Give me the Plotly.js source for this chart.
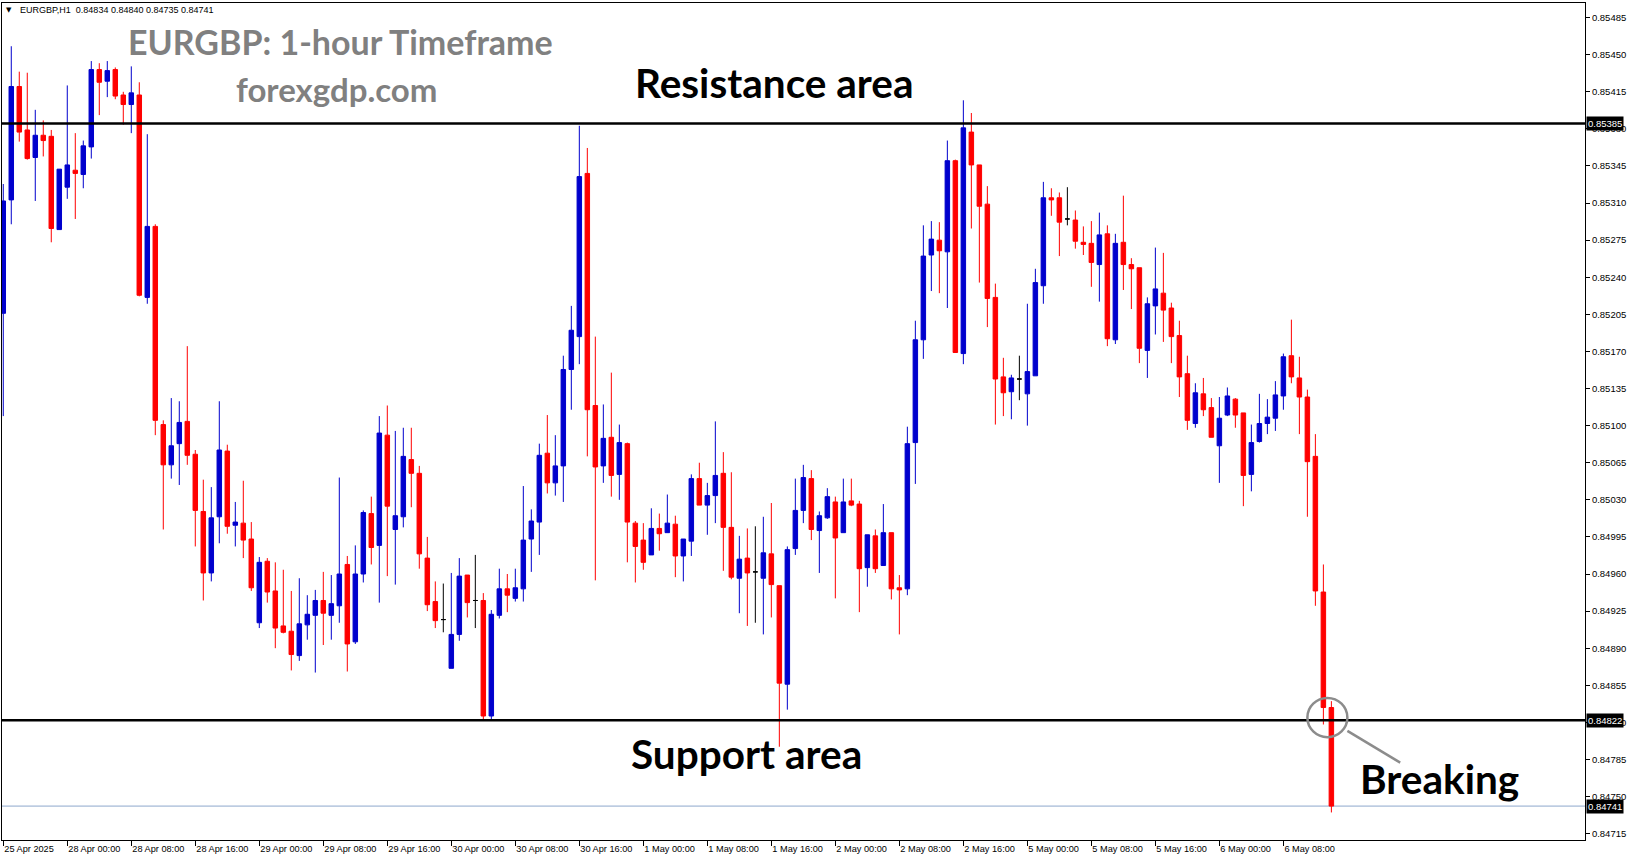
<!DOCTYPE html>
<html>
<head>
<meta charset="utf-8">
<script src="https://cdn.plot.ly/plotly-3.0.1.min.js"></script>
<style>html,body{margin:0;padding:0;background:#fff;}#chart{width:1631px;height:861px;}</style>
</head>
<body>
<div id="chart"></div>
<script>
// ---- Data (EURGBP H1, 25 Apr 16:00 -> 6 May 14:00) ----
const opens = [0.85206,0.85313,0.85420,0.85379,0.85353,0.85374,0.85373,0.85285,0.85325,0.85341,0.85337,0.85363,0.85436,0.85425,0.85436,0.85412,0.85403,0.85412,0.85221,0.85288,0.85101,0.85063,0.85083,0.85104,0.85073,0.85019,0.84961,0.85014,0.85076,0.85006,0.85008,0.84993,0.84914,0.84972,0.84944,0.84911,0.84906,0.84883,0.84912,0.84921,0.84935,0.84921,0.84930,0.84969,0.84896,0.84960,0.85017,0.84987,0.85091,0.85002,0.85014,0.85068,0.85055,0.84975,0.84934,0.84917,0.84871,0.84903,0.84959,0.84935,0.84935,0.84826,0.84921,0.84946,0.84937,0.84946,0.84993,0.85009,0.85074,0.85046,0.85062,0.85153,0.85184,0.85338,0.85119,0.85062,0.85089,0.85054,0.85083,0.85008,0.84992,0.84978,0.85003,0.84999,0.85007,0.84977,0.84991,0.85050,0.85025,0.85034,0.85055,0.85004,0.84956,0.84975,0.84962,0.84956,0.84979,0.84949,0.84856,0.84984,0.85020,0.85050,0.85001,0.85013,0.85028,0.84999,0.85029,0.85026,0.84966,0.84996,0.84968,0.84999,0.84947,0.84946,0.85084,0.85181,0.85261,0.85275,0.85264,0.85350,0.85168,0.85377,0.85346,0.85309,0.85221,0.85146,0.85132,0.85144,0.85130,0.85147,0.85232,0.85315,0.85315,0.85295,0.85294,0.85273,0.85272,0.85252,0.85281,0.85181,0.85273,0.85252,0.85249,0.85171,0.85213,0.85225,0.85211,0.85185,0.85149,0.85102,0.85130,0.85117,0.85081,0.85110,0.85125,0.85112,0.85054,0.85085,0.85102,0.85107,0.85128,0.85166,0.85145,0.85127,0.85071,0.84943,0.84834];
const highs = [0.85328,0.85458,0.85434,0.85433,0.85398,0.85388,0.85379,0.85342,0.85421,0.85376,0.85369,0.85444,0.85442,0.85444,0.85438,0.85415,0.85439,0.85424,0.85375,0.85290,0.85105,0.85126,0.85123,0.85175,0.85077,0.85049,0.85042,0.85123,0.85082,0.85028,0.85048,0.85009,0.84976,0.84975,0.84971,0.84964,0.84944,0.84956,0.84940,0.84945,0.84962,0.84959,0.85051,0.84977,0.84987,0.85020,0.85033,0.85109,0.85119,0.85095,0.85098,0.85098,0.85062,0.84995,0.84953,0.84951,0.84961,0.84975,0.84959,0.84978,0.84942,0.84926,0.84965,0.84960,0.84965,0.85043,0.85021,0.85083,0.85110,0.85091,0.85166,0.85213,0.85383,0.85362,0.85184,0.85120,0.85150,0.85101,0.85084,0.85010,0.85008,0.85022,0.85017,0.85035,0.85015,0.84993,0.85054,0.85065,0.85046,0.85104,0.85075,0.85056,0.84996,0.85003,0.85005,0.85014,0.85027,0.84949,0.84986,0.85050,0.85063,0.85058,0.85019,0.85041,0.85033,0.85050,0.85050,0.85029,0.84997,0.85002,0.85026,0.84999,0.84959,0.85099,0.85199,0.85289,0.85293,0.85292,0.85369,0.85351,0.85407,0.85395,0.85346,0.85326,0.85234,0.85164,0.85148,0.85166,0.85215,0.85248,0.85330,0.85324,0.85320,0.85325,0.85303,0.85288,0.85293,0.85301,0.85289,0.85281,0.85317,0.85258,0.85249,0.85221,0.85268,0.85263,0.85216,0.85199,0.85166,0.85140,0.85145,0.85126,0.85127,0.85136,0.85126,0.85112,0.85101,0.85130,0.85125,0.85142,0.85168,0.85200,0.85165,0.85134,0.85092,0.84969,0.84840];
const lows = [0.85109,0.85290,0.85368,0.85351,0.85312,0.85354,0.85273,0.85285,0.85314,0.85295,0.85324,0.85352,0.85393,0.85410,0.85408,0.85384,0.85376,0.85222,0.85215,0.85091,0.85002,0.85050,0.85044,0.85063,0.84986,0.84935,0.84953,0.84989,0.84998,0.84986,0.84975,0.84944,0.84909,0.84933,0.84890,0.84904,0.84869,0.84878,0.84898,0.84867,0.84893,0.84898,0.84914,0.84868,0.84894,0.84952,0.84969,0.84933,0.84958,0.84950,0.85004,0.85023,0.84965,0.84925,0.84909,0.84905,0.84871,0.84897,0.84919,0.84909,0.84823,0.84823,0.84918,0.84924,0.84934,0.84934,0.84962,0.84978,0.85036,0.85034,0.85028,0.85115,0.85158,0.85071,0.84954,0.85046,0.85033,0.85030,0.84971,0.84952,0.84964,0.84978,0.84982,0.84999,0.84957,0.84953,0.84977,0.85025,0.84997,0.85008,0.84963,0.84955,0.84923,0.84911,0.84914,0.84903,0.84919,0.84797,0.84832,0.84978,0.85008,0.84992,0.84961,0.85012,0.84937,0.84999,0.85024,0.84924,0.84948,0.84961,0.84968,0.84936,0.84903,0.84940,0.85045,0.85163,0.85227,0.85225,0.85211,0.85169,0.85158,0.85286,0.85235,0.85193,0.85101,0.85109,0.85106,0.85124,0.85100,0.85147,0.85215,0.85298,0.85260,0.85289,0.85267,0.85261,0.85231,0.85217,0.85175,0.85177,0.85228,0.85210,0.85159,0.85145,0.85186,0.85179,0.85159,0.85127,0.85096,0.85098,0.85109,0.85089,0.85046,0.85109,0.85098,0.85024,0.85038,0.85084,0.85092,0.85095,0.85115,0.85140,0.85092,0.85014,0.84930,0.84818,0.84735];
const closes = [0.85312,0.85420,0.85377,0.85352,0.85374,0.85369,0.85286,0.85342,0.85346,0.85338,0.85364,0.85436,0.85424,0.85435,0.85411,0.85403,0.85414,0.85223,0.85288,0.85105,0.85063,0.85081,0.85103,0.85072,0.85020,0.84961,0.85013,0.85077,0.85005,0.85009,0.84992,0.84947,0.84971,0.84943,0.84909,0.84905,0.84884,0.84913,0.84922,0.84935,0.84923,0.84932,0.84960,0.84894,0.84960,0.85018,0.84985,0.85093,0.85024,0.85015,0.85071,0.85055,0.84979,0.84931,0.84916,0.84917,0.84903,0.84958,0.84933,0.84935,0.84826,0.84922,0.84946,0.84940,0.84947,0.84992,0.85010,0.85072,0.85046,0.85062,0.85153,0.85190,0.85335,0.85115,0.85061,0.85088,0.85053,0.85084,0.85009,0.84986,0.84971,0.85003,0.84998,0.85008,0.84977,0.84993,0.85050,0.85025,0.85034,0.85053,0.85004,0.84957,0.84974,0.84961,0.84962,0.84980,0.84950,0.84857,0.84983,0.85020,0.85051,0.85002,0.85015,0.85033,0.84994,0.85028,0.85025,0.84965,0.84997,0.84965,0.84999,0.84946,0.84945,0.85083,0.85181,0.85260,0.85276,0.85265,0.85350,0.85169,0.85381,0.85346,0.85307,0.85220,0.85144,0.85131,0.85145,0.85144,0.85151,0.85235,0.85315,0.85313,0.85292,0.85295,0.85274,0.85271,0.85254,0.85280,0.85182,0.85272,0.85252,0.85248,0.85173,0.85215,0.85229,0.85209,0.85184,0.85146,0.85105,0.85131,0.85115,0.85089,0.85107,0.85128,0.85110,0.85053,0.85084,0.85102,0.85108,0.85129,0.85165,0.85146,0.85127,0.85066,0.84944,0.84834,0.84741];

const xTickLabels = ['25 Apr 2025','28 Apr 00:00','28 Apr 08:00','28 Apr 16:00','29 Apr 00:00','29 Apr 08:00','29 Apr 16:00','30 Apr 00:00','30 Apr 08:00','30 Apr 16:00','1 May 00:00','1 May 08:00','1 May 16:00','2 May 00:00','2 May 08:00','2 May 16:00','5 May 00:00','5 May 08:00','5 May 16:00','6 May 00:00','6 May 08:00'];
const yTickLabels = ['0.85485','0.85450','0.85415','0.85380','0.85345','0.85310','0.85275','0.85240','0.85205','0.85170','0.85135','0.85100','0.85065','0.85030','0.84995','0.84960','0.84925','0.84890','0.84855','0.84820','0.84785','0.84750','0.84715'];
const resistanceLevel = 0.85385;
const supportLevel = 0.84822;
const lastPrice = 0.84741;
const headerText = 'EURGBP,H1\u00a0 0.84834 0.84840 0.84735 0.84741';

// ---- Build traces ----
const xs = opens.map((_, i) => i);
const normIdx = xs.filter(i => opens[i] !== closes[i]);
const dojiIdx = xs.filter(i => opens[i] === closes[i]);
const pick = (arr, idx) => idx.map(i => arr[i]);

const BLUE = '#0000cd', RED = '#ff0000';
const main = {
  type: 'candlestick',
  x: pick(xs, normIdx), open: pick(opens, normIdx), high: pick(highs, normIdx),
  low: pick(lows, normIdx), close: pick(closes, normIdx),
  increasing: {line: {color: BLUE, width: 1}, fillcolor: BLUE},
  decreasing: {line: {color: RED, width: 1}, fillcolor: RED},
  whiskerwidth: 0, hoverinfo: 'skip', showlegend: false
};
const doji = {
  type: 'candlestick',
  x: pick(xs, dojiIdx), open: pick(opens, dojiIdx), high: pick(highs, dojiIdx),
  low: pick(lows, dojiIdx), close: pick(closes, dojiIdx),
  increasing: {line: {color: '#000', width: 1}, fillcolor: '#000'},
  decreasing: {line: {color: '#000', width: 1}, fillcolor: '#000'},
  whiskerwidth: 0, hoverinfo: 'skip', showlegend: false
};

// ---- Layout ----
const W = 1631, H = 861, ML = 2, MR = 46, MT = 3, MB = 21;
const PW = W - ML - MR, PH = H - MT - MB;
const px = x => (x - ML) / PW;
const py = y => 1 - (y - MT) / PH;

const bigFont = {family: 'Lato, "Open Sans", sans-serif', size: 40.5, color: '#000', weight: 700};
const greyFont = {family: 'Lato, "Open Sans", sans-serif', size: 34, color: '#808080', weight: 700};
const greyFont2 = {family: 'Lato, "Open Sans", sans-serif', size: 33, color: '#808080', weight: 700};
const smallFont = {family: '"Liberation Sans", Arial, sans-serif', size: 9, color: '#000'};

function priceBox(v, txt) {
  return {xref: 'paper', yref: 'y', x: 1, y: v, xanchor: 'left', yanchor: 'middle', xshift: 1,
    text: txt, showarrow: false, bgcolor: '#000', borderpad: 1,
    font: {family: '"Liberation Sans", Arial, sans-serif', size: 9.5, color: '#fff'}};
}

const layout = {
  width: W, height: H,
  margin: {l: ML, r: MR, t: MT, b: MB, pad: 0},
  paper_bgcolor: '#fff', plot_bgcolor: '#fff',
  boxgap: 0.2,
  showlegend: false,
  xaxis: {
    type: 'linear', range: [-0.16, 197.7], fixedrange: true,
    rangeslider: {visible: false},
    showgrid: false, zeroline: false, showline: true, mirror: true, linecolor: '#000', linewidth: 1,
    ticks: 'outside', ticklen: 5, tickcolor: '#000', tickwidth: 1,
    tickvals: xTickLabels.map((_, k) => k * 8), ticktext: xTickLabels,
    ticklabelposition: 'outside right',
    tickfont: {family: '"Liberation Sans", Arial, sans-serif', size: 9.2, color: '#000'}
  },
  yaxis: {
    side: 'right', range: [0.84709, 0.854988], fixedrange: true,
    showgrid: false, zeroline: false, showline: true, mirror: true, linecolor: '#000', linewidth: 1,
    ticks: 'outside', ticklen: 4, tickcolor: '#000', tickwidth: 1,
    tickvals: yTickLabels.map(Number), ticktext: yTickLabels,
    tickfont: {family: '"Liberation Sans", Arial, sans-serif', size: 9.5, color: '#000'}
  },
  shapes: [
    {type: 'line', xref: 'paper', yref: 'y', x0: 0, x1: 1, y0: lastPrice, y1: lastPrice,
      line: {color: '#8ea8cc', width: 1}, layer: 'below'},
    {type: 'line', xref: 'paper', yref: 'y', x0: 0, x1: 1, y0: resistanceLevel, y1: resistanceLevel,
      line: {color: '#000', width: 2.5}, layer: 'above'},
    {type: 'line', xref: 'paper', yref: 'y', x0: 0, x1: 1, y0: supportLevel, y1: supportLevel,
      line: {color: '#000', width: 2.5}, layer: 'above'},
    {type: 'circle', xref: 'x', yref: 'y', x0: 163.0, x1: 168.0, y0: 0.84806, y1: 0.84843,
      line: {color: '#8c8c8c', width: 2.5}, layer: 'above'},
    {type: 'line', xref: 'x', yref: 'y', x0: 168.0, x1: 174.6, y0: 0.84812, y1: 0.84782,
      line: {color: '#8c8c8c', width: 2.5}, layer: 'above'}
  ],
  annotations: [
    {xref: 'paper', yref: 'paper', x: px(9), y: py(10), xanchor: 'center', yanchor: 'middle',
      text: '\u25BC', showarrow: false, font: {family: 'DejaVu Sans', size: 7, color: '#000'}},
    {xref: 'paper', yref: 'paper', x: px(18), y: py(10), xanchor: 'left', yanchor: 'middle',
      text: headerText, showarrow: false, font: smallFont},
    {xref: 'paper', yref: 'paper', x: px(340), y: py(42), xanchor: 'center', yanchor: 'middle',
      text: '<b>EURGBP: 1-hour Timeframe</b>', showarrow: false, font: greyFont},
    {xref: 'paper', yref: 'paper', x: px(336), y: py(89), xanchor: 'center', yanchor: 'middle',
      text: '<b>forexgdp.com</b>', showarrow: false, font: greyFont2},
    {xref: 'paper', yref: 'paper', x: px(774), y: py(82), xanchor: 'center', yanchor: 'middle',
      text: '<b>Resistance area</b>', showarrow: false, font: bigFont},
    {xref: 'paper', yref: 'paper', x: px(746), y: py(753), xanchor: 'center', yanchor: 'middle',
      text: '<b>Support area</b>', showarrow: false, font: bigFont},
    {xref: 'paper', yref: 'paper', x: px(1439), y: py(778), xanchor: 'center', yanchor: 'middle',
      text: '<b>Breaking</b>', showarrow: false, font: bigFont},
    priceBox(resistanceLevel, resistanceLevel.toFixed(5)),
    priceBox(supportLevel, supportLevel.toFixed(5)),
    priceBox(lastPrice, lastPrice.toFixed(5))
  ]
};

Plotly.newPlot('chart', [main, doji], layout, {staticPlot: true, displayModeBar: false});
</script>
</body>
</html>
